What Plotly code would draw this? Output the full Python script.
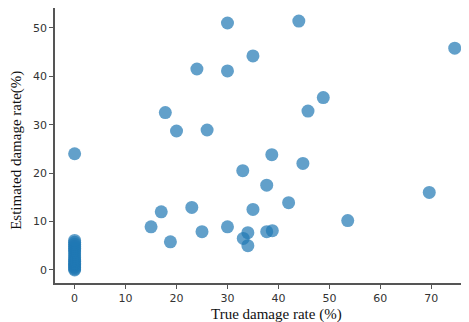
import plotly.graph_objects as go

zero_est = [0.0, 0.2, 0.5, 0.8, 1.1, 1.4, 1.8, 2.1, 2.5, 2.9, 3.3, 3.7, 4.1, 4.5, 4.9, 5.3, 5.7, 6.1, 24.0]
true_rate = [15, 17, 18.8, 23, 25, 30, 33, 33.1, 34, 34, 35, 37.7, 37.7, 38.8, 38.7, 42,
             44.8, 53.6, 69.6, 74.6, 45.8, 48.8, 44, 35, 30, 24, 30, 17.8, 20, 26]
est_rate = [8.9, 12.0, 5.8, 12.9, 7.9, 8.9, 20.5, 6.5, 7.7, 5.0, 12.5, 17.5, 7.9, 8.1, 23.8, 13.9,
            22.0, 10.2, 16.0, 45.8, 32.8, 35.6, 51.4, 44.2, 51.0, 41.5, 41.1, 32.5, 28.7, 28.9]

x_all = [0] * len(zero_est) + true_rate
y_all = zero_est + est_rate

fig = go.Figure()
fig.add_trace(go.Scatter(
    x=x_all, y=y_all, mode="markers",
    marker=dict(size=13, color="#1f77b4", opacity=0.7, line=dict(width=0)),
    showlegend=False,
))

axis_common = dict(
    showgrid=False, zeroline=False, showline=True, linecolor="#555555", linewidth=1.5,
    ticks="outside", ticklen=4, tickcolor="#555555", tickwidth=1, automargin=False,
    tickfont=dict(family="DejaVu Sans", size=11, color="#333333"),
)
fig.update_xaxes(range=[-3.85, 77.4], tickvals=[0, 10, 20, 30, 40, 50, 60, 70], mirror=True,
                 **axis_common)
fig.update_yaxes(range=[-2.7, 54.1], tickvals=[0, 10, 20, 30, 40, 50], **axis_common)
title_font = dict(family="Liberation Serif", size=15, color="#111111")
fig.update_layout(
    width=461, height=314,
    margin=dict(l=47, r=0, t=0, b=39, autoexpand=False),
    plot_bgcolor="white", paper_bgcolor="white",
    annotations=[
        dict(text="True damage rate (%)", xref="paper", yref="paper", x=0.534, y=-0.113,
             xanchor="center", yanchor="middle", showarrow=False, font=title_font),
        dict(text="Estimated damage rate(%)", xref="paper", yref="paper", x=-0.092, y=0.484,
             xanchor="center", yanchor="middle", textangle=-90, showarrow=False, font=title_font),
    ],
)
fig.write_html("out.html")
